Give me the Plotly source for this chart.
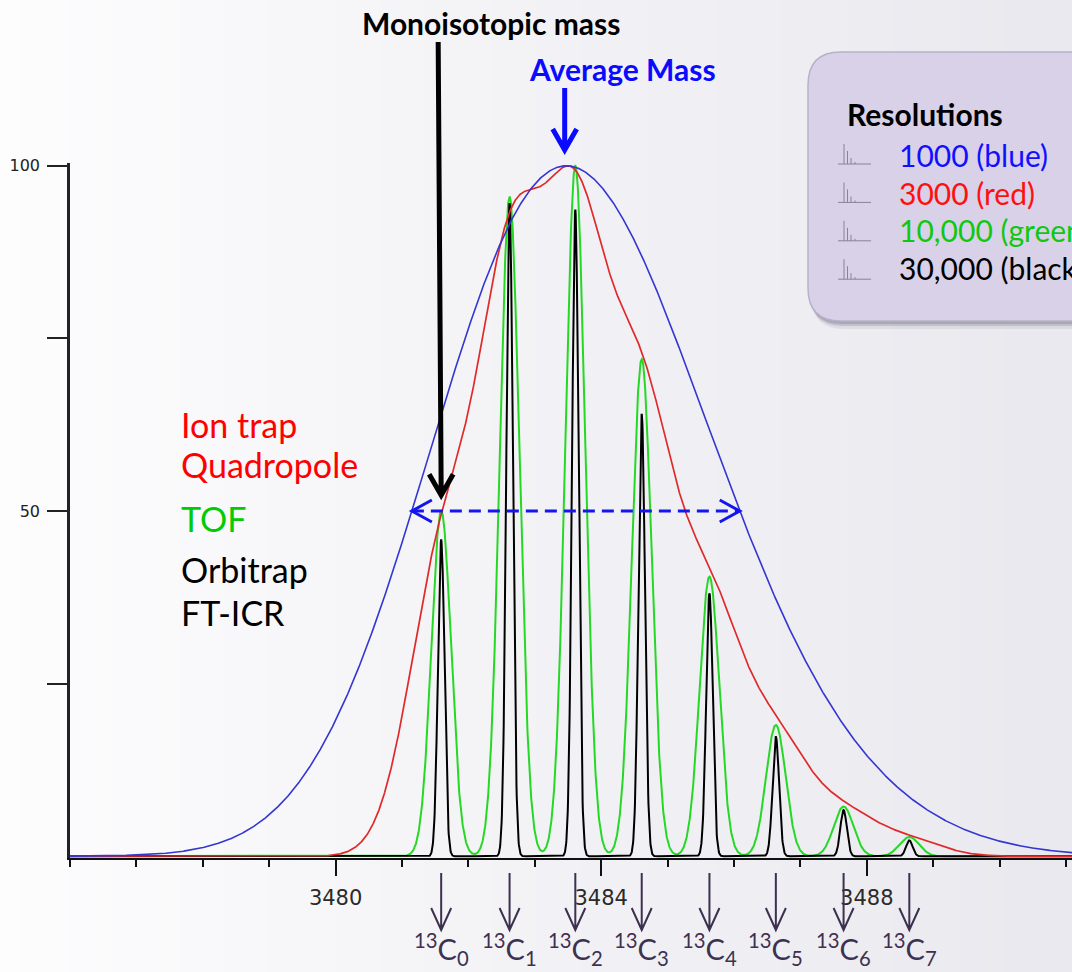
import numpy as np
import plotly.graph_objects as go

# ---------------- data ----------------
ISOTOPE_INDEX = [0, 1, 2, 3, 4, 5, 6, 7]
ISOTOPE_MZ = [3481.59, 3482.62, 3483.61, 3484.61, 3485.63, 3486.63, 3487.65, 3488.64]
ISOTOPE_REL = [50.0, 95.5, 100.0, 72.0, 40.5, 19.0, 7.2, 2.8]      # resolved (green) peak tops
BLACK_PEAK_TOPS = [45.8, 94.6, 93.6, 64.0, 38.1, 17.3, 6.7, 2.3]   # apparent tops of the 30,000 trace

RESOLUTIONS = [10000, 30000, 3000, 1000]          # drawing order (bottom -> top)
SERIES_COLORS = ["#26d826", "#000000", "#e02a2a", "#3535d2"]
SERIES_WIDTHS = [2.0, 2.0, 1.7, 1.6]

LEGEND_LABELS = ["1000 (blue)", "3000 (red)", "10,000 (green)", "30,000 (black)"]
LEGEND_COLORS = ["#1010ff", "#ff1010", "#10c810", "#000000"]

INSTRUMENT_LABELS = ["Ion trap", "Quadropole", "TOF", "Orbitrap", "FT-ICR"]
INSTRUMENT_COLORS = ["#ff0000", "#ff0000", "#00cc00", "#000000", "#000000"]

X_TICKS = [3480, 3484, 3488]
Y_TICKS = [25, 50, 75, 100]
Y_TICK_TEXT = ["", "50", "", "100"]
MZ_RANGE = [3476.0, 3491.09]
Y_RANGE = [-0.25, 100.4]

MONO_ARROW_TIP = 52.0          # intensity where the monoisotopic arrow ends
AVG_ARROW_MZ = 3483.45         # m/z of the average-mass arrow

# ---------------- layout geometry (pixels) ----------------
W, H = 1072, 972
ML, MR, MT, MB = 70, 0, 163, 114
PW, PH = W - ML - MR, H - MT - MB
DX = (MZ_RANGE[1] - MZ_RANGE[0]) / PW      # m/z per pixel (for arrow-head sizes)


def px(xp):
    return (xp - ML) / PW


def py(yp):
    return (H - MB - yp) / PH


def pval(v):
    return (v - Y_RANGE[0]) / (Y_RANGE[1] - Y_RANGE[0])


# ---------------- simulated profiles from centroids ----------------
mz = np.arange(MZ_RANGE[0], MZ_RANGE[1] + 0.002, 0.004)


def profile(res, heights, normalise=True):
    y = np.zeros_like(mz)
    for m, h in zip(ISOTOPE_MZ, heights):
        s = m / res / 2.3548
        y += h * np.exp(-0.5 * ((mz - m) / s) ** 2)
    return 100.0 * y / y.max() if normalise else y


profiles = {
    1000: profile(1000, ISOTOPE_REL),
    3000: profile(3000, ISOTOPE_REL),
    10000: profile(10000, ISOTOPE_REL),
    30000: profile(30000, BLACK_PEAK_TOPS, normalise=False),
}

fig = go.Figure()
for r, c, w in zip(RESOLUTIONS, SERIES_COLORS, SERIES_WIDTHS):
    fig.add_trace(go.Scatter(x=mz, y=profiles[r], mode="lines",
                             line=dict(color=c, width=w), showlegend=False,
                             hoverinfo="skip"))

# half-maximum crossing of the R=1000 profile
blue = profiles[1000]
idx = np.where(blue >= 50)[0]
i0, i1 = idx[0], idx[-1]
x_left = np.interp(50, [blue[i0 - 1], blue[i0]], [mz[i0 - 1], mz[i0]])
x_right = np.interp(50, [blue[i1 + 1], blue[i1]], [mz[i1 + 1], mz[i1]])

shapes = []
annotations = []

# background gradient (left light -> right grey)
nb = 48
c0 = np.array([253, 253, 254])
c1 = np.array([233, 233, 239])
for k in range(nb):
    t = k / (nb - 1)
    col = (c0 + (c1 - c0) * t).astype(int)
    shapes.append(dict(type="rect", xref="paper", yref="paper",
                       x0=px(k * W / nb), x1=px((k + 1) * W / nb + 1),
                       y0=py(H + 2), y1=py(-2), line=dict(width=0),
                       fillcolor=f"rgb({col[0]},{col[1]},{col[2]})", layer="below"))


def rounded(x0p, y0p, x1p, y1p, r):
    x0, x1 = px(x0p), px(x1p)
    yt, yb = py(y0p), py(y1p)
    rx, ry = r / PW, r / PH
    return (f"M{x0+rx},{yt} L{x1-rx},{yt} Q{x1},{yt} {x1},{yt-ry} "
            f"L{x1},{yb+ry} Q{x1},{yb} {x1-rx},{yb} L{x0+rx},{yb} "
            f"Q{x0},{yb} {x0},{yb+ry} L{x0},{yt-ry} Q{x0},{yt} {x0+rx},{yt} Z")


# legend box (rounded, with shadow)
for off, alpha in [(8, 0.10), (5, 0.18), (3, 0.22)]:
    shapes.append(dict(type="path", xref="paper", yref="paper",
                       path=rounded(808 + off * 0.4, 52 + off, 1110 + off, 321 + off, 33),
                       fillcolor=f"rgba(80,80,100,{alpha})", line=dict(width=0), layer="above"))
shapes.append(dict(type="path", xref="paper", yref="paper",
                   path=rounded(808, 52, 1110, 321, 33),
                   fillcolor="#d9d1e8", line=dict(color="#b9b0c9", width=1.5), layer="above"))

# legend spectrum icons
for k in range(4):
    base = 164 + k * 38.4
    shapes.append(dict(type="line", xref="paper", yref="paper",
                       x0=px(838), x1=px(871), y0=py(base), y1=py(base),
                       line=dict(color="#8a8296", width=1), layer="above"))
    for xx, hh in [(844, 20), (847.5, 13), (851, 6), (855, 2)]:
        shapes.append(dict(type="line", xref="paper", yref="paper",
                           x0=px(xx), x1=px(xx), y0=py(base), y1=py(base - hh),
                           line=dict(color="#8a8296", width=1), layer="above"))

annotations.append(dict(xref="paper", yref="paper", x=px(845), y=py(114),
                        text="<b>Resolutions</b>", showarrow=False, xanchor="left",
                        yanchor="middle", font=dict(family="Lato", size=30, color="#000000")))
for k, (lab, col) in enumerate(zip(LEGEND_LABELS, LEGEND_COLORS)):
    annotations.append(dict(xref="paper", yref="paper", x=px(897), y=py(155 + k * 37.7),
                            text=lab, showarrow=False, xanchor="left", yanchor="middle",
                            font=dict(family="Lato", size=30, color=col)))

# instrument labels on the left
for lab, col, yc in zip(INSTRUMENT_LABELS, INSTRUMENT_COLORS, [424, 464, 518, 569, 612]):
    annotations.append(dict(xref="paper", yref="paper", x=px(179), y=py(yc),
                            text=lab, showarrow=False, xanchor="left", yanchor="middle",
                            font=dict(family="Lato", size=34, color=col)))

# titles
annotations.append(dict(xref="paper", yref="paper", x=px(491), y=py(23),
                        text="<b>Monoisotopic mass</b>", showarrow=False,
                        xanchor="center", yanchor="middle",
                        font=dict(family="Lato", size=30, color="#000000")))
annotations.append(dict(xref="paper", yref="paper", x=px(622), y=py(69),
                        text="<b>Average Mass</b>", showarrow=False,
                        xanchor="center", yanchor="middle",
                        font=dict(family="Lato", size=30, color="#0a0aff")))


def arrow_path(x_tail, yp_tail, x_tip, yp_tip, half_w, head_len, shaft_gap=0.0):
    """vertical down arrow; x in m/z, y in pixels from top."""
    return (f"M{x_tail},{py(yp_tail)} L{x_tip},{py(yp_tip - shaft_gap)} "
            f"M{x_tip - half_w * DX},{py(yp_tip - head_len)} L{x_tip},{py(yp_tip)} "
            f"L{x_tip + half_w * DX},{py(yp_tip - head_len)}")


# monoisotopic arrow (tip at intensity MONO_ARROW_TIP)
mono_tip_px = H - MB - pval(MONO_ARROW_TIP) * PH
shapes.append(dict(type="path", xref="x", yref="paper",
                   path=arrow_path(ISOTOPE_MZ[0] - 3 * DX, 42, ISOTOPE_MZ[0], mono_tip_px - 2,
                                   12, 21, shaft_gap=4),
                   line=dict(color="#000000", width=5), layer="above"))
# average-mass arrow
shapes.append(dict(type="path", xref="x", yref="paper",
                   path=arrow_path(AVG_ARROW_MZ, 88, AVG_ARROW_MZ, 150, 12, 21, shaft_gap=4),
                   line=dict(color="#0a0aff", width=5), layer="above"))

# FWHM dashed double arrow
shapes.append(dict(type="line", xref="x", yref="y", x0=x_left, x1=x_right, y0=50, y1=50,
                   line=dict(color="#1515f0", width=3, dash="12px,7px"), layer="above"))
y50 = pval(50)
for xe, sgn in [(x_left, 1), (x_right, -1)]:
    shapes.append(dict(type="path", xref="x", yref="paper",
                       path=(f"M{xe + sgn * 20 * DX},{y50 + 11 / PH} L{xe},{y50} "
                             f"L{xe + sgn * 20 * DX},{y50 - 11 / PH}"),
                       line=dict(color="#1515f0", width=3), layer="above"))

# isotope arrows and labels below the axis
for k, m in zip(ISOTOPE_INDEX, ISOTOPE_MZ):
    shapes.append(dict(type="path", xref="x", yref="paper",
                       path=arrow_path(m, 873, m, 930, 10, 22),
                       line=dict(color="#3d3150", width=2), layer="above"))
    annotations.append(dict(xref="x", yref="paper", x=m, y=py(949),
                            text=f"<sup>13</sup>C<sub>{k}</sub>", showarrow=False,
                            xanchor="center", yanchor="middle",
                            font=dict(family="Lato", size=29, color="#3d3150")))

fig.update_layout(
    width=W, height=H, autosize=False,
    margin=dict(l=ML, r=MR, t=MT, b=MB, pad=0),
    paper_bgcolor="#f4f4f7", plot_bgcolor="rgba(0,0,0,0)",
    shapes=shapes, annotations=annotations, showlegend=False,
    xaxis=dict(range=MZ_RANGE, showgrid=False, zeroline=False, showline=True,
               linecolor="#111111", linewidth=2, ticks="outside", tickvals=X_TICKS,
               ticklen=16, tickwidth=2, tickcolor="#111111", ticklabelstandoff=4,
               tickfont=dict(family="DejaVu Sans", size=21, color="#2a2a2a"),
               minor=dict(dtick=1, tick0=3476, ticks="outside", ticklen=7,
                          tickwidth=2, tickcolor="#111111", showgrid=False)),
    yaxis=dict(range=Y_RANGE, showgrid=False, zeroline=False, showline=True,
               linecolor="#222222", linewidth=2.5, ticks="outside", tickvals=Y_TICKS,
               ticktext=Y_TICK_TEXT, ticklen=20, tickwidth=2, tickcolor="#222222",
               ticklabelstandoff=4,
               tickfont=dict(family="DejaVu Sans", size=16, color="#222222")),
)

fig.write_html("out.html", config={"displayModeBar": False},
               post_script="document.body.style.margin='0px';")
